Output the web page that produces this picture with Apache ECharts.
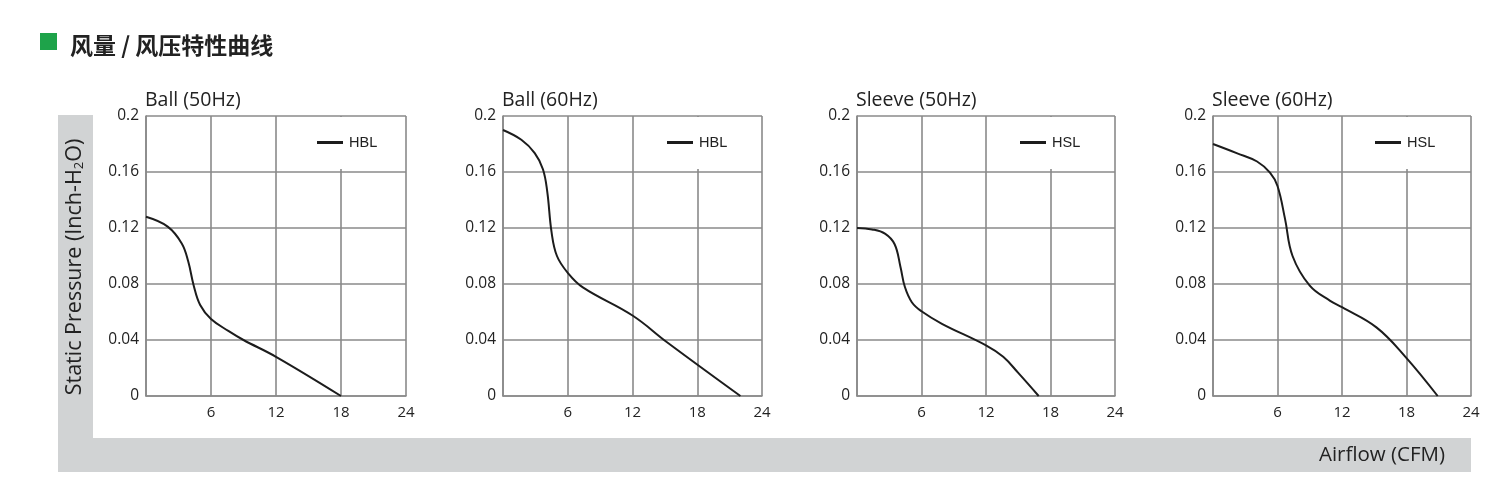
<!DOCTYPE html>
<html>
<head>
<meta charset="utf-8">
<script src="https://cdn.jsdelivr.net/npm/echarts@6/dist/echarts.min.js"></script>
<style>
html,body{margin:0;padding:0;background:#fff;}
#c{width:1499px;height:494px;}
</style>
</head>
<body>
<div id="c"></div>
<script>
// ---- data ----
const pageTitle = '风量 / 风压特性曲线';
const yAxisTitle = 'Static Pressure (Inch-H';
const xAxisTitle = 'Airflow (CFM)';
const chartTitles = ['Ball (50Hz)', 'Ball (60Hz)', 'Sleeve (50Hz)', 'Sleeve (60Hz)'];
const seriesNames = ['HBL', 'HBL', 'HSL', 'HSL'];
const xTicks = [0, 6, 12, 18, 24];
const yTicks = [0, 0.04, 0.08, 0.12, 0.16, 0.2];

const ball50 = [[0,0.128],[2,0.121],[3.3,0.109],[3.9,0.096],[4.4,0.079],[5,0.065],[6,0.055],[7.6,0.0465],[9,0.04],[12,0.028],[18,0]];
const ball60 = [[0,0.19],[1.7,0.183],[2.94,0.1735],[3.7,0.162],[4.1,0.146],[4.5,0.117],[5,0.1],[6,0.088],[7.4,0.0776],[12,0.0575],[15.2,0.0384],[22,0]];
const sleeve50 = [[0,0.12],[1.4,0.119],[2.6,0.116],[3.5,0.1084],[4.05,0.092],[4.45,0.078],[5.1,0.067],[6,0.0605],[7.9,0.0516],[12,0.0362],[13.6,0.028],[15,0.0165],[16.9,0]];
const sleeve60 = [[0,0.18],[2.2,0.1735],[4.1,0.1675],[5.3,0.1595],[6,0.15],[6.7,0.1265],[7.4,0.1],[9,0.0788],[10.9,0.068],[12,0.0634],[15.2,0.049],[17.9,0.028],[20.9,0]];
const curves = [ball50, ball60, sleeve50, sleeve60];

// ---- layout ----
const gridLefts = [146, 503, 857, 1213];
const gridWidths = [260, 259, 258, 258];
const gridTop = 116, gridHeight = 280;
const legendOffsets = [171, 164, 163, 162];
const gridColor = '#8a8a8a';
const lineColor = '#1c1c1c';
const tickFont = '"Open Sans", "Noto Sans", sans-serif';

const chart = echarts.init(document.getElementById('c'), null, {renderer: 'canvas'});

const grids = [], xAxes = [], yAxes = [], series = [], legends = [], titles = [];
curves.forEach((data, i) => {
  grids.push({left: gridLefts[i], top: gridTop, width: gridWidths[i], height: gridHeight, containLabel: false});
  xAxes.push({
    type: 'value', gridIndex: i, min: xTicks[0], max: xTicks[xTicks.length - 1], interval: xTicks[1] - xTicks[0],
    axisLine: {show: true, lineStyle: {color: gridColor, width: 1.6}},
    axisTick: {show: false},
    axisLabel: {showMinLabel: false, margin: 9, color: '#222', fontSize: 15, fontFamily: tickFont},
    splitLine: {show: true, lineStyle: {color: gridColor, width: 1.6}}
  });
  yAxes.push({
    type: 'value', gridIndex: i, min: yTicks[0], max: yTicks[yTicks.length - 1], interval: yTicks[1] - yTicks[0],
    axisLine: {show: true, lineStyle: {color: gridColor, width: 1.6}},
    axisTick: {show: false},
    axisLabel: {margin: 7, color: '#222', fontSize: 15.5, fontFamily: tickFont,
      formatter: v => String(Math.round(v * 100) / 100)},
    splitLine: {show: true, lineStyle: {color: gridColor, width: 1.6}}
  });
  series.push({
    name: seriesNames[i] + '#' + i, type: 'line', xAxisIndex: i, yAxisIndex: i, data: data,
    smooth: 0.4, showSymbol: false, symbol: 'none',
    lineStyle: {color: lineColor, width: 2}, itemStyle: {color: lineColor}, z: 3
  });
  legends.push({
    data: [seriesNames[i] + '#' + i],
    left: gridLefts[i] + legendOffsets[i] - 20, top: gridTop + 1,
    padding: [18, 12, 19, 20], backgroundColor: '#ffffff',
    icon: 'rect', itemWidth: 26, itemHeight: 3, itemGap: 0,
    formatter: n => n.split('#')[0],
    textStyle: {color: '#222', fontSize: 14.5, fontFamily: '"Liberation Sans", Arial, sans-serif', padding: [0, 0, 0, 1]},
    selectedMode: false, z: 5
  });
  titles.push({
    text: chartTitles[i], left: gridLefts[i] - 6, top: 85,
    textStyle: {color: '#222', fontSize: 19.5, fontWeight: 'normal', fontFamily: tickFont}
  });
});

titles.push({
  text: pageTitle, left: 65, top: 29,
  textStyle: {color: '#222', fontSize: 23, fontWeight: 'bold', fontFamily: '"Noto Sans CJK SC", sans-serif'}
});

const option = {
  animation: false,
  backgroundColor: '#ffffff',
  title: titles,
  legend: legends,
  grid: grids,
  xAxis: xAxes,
  yAxis: yAxes,
  series: series,
  graphic: [
    {type: 'rect', z: -10, silent: true, shape: {x: 58, y: 115, width: 35, height: 357}, style: {fill: '#d1d3d4'}},
    {type: 'rect', z: -10, silent: true, shape: {x: 58, y: 438, width: 1413, height: 34}, style: {fill: '#d1d3d4'}},
    {type: 'rect', z: 10, silent: true, shape: {x: 40, y: 33, width: 17, height: 17}, style: {fill: '#1ea34a'}},
    {type: 'text', z: 10, silent: true, x: 75, y: 267, rotation: Math.PI / 2,
      style: {
        text: '{a|' + yAxisTitle + '}{s|2}{a|O)}',
        align: 'center', verticalAlign: 'middle',
        rich: {
          a: {fontSize: 21.5, fontFamily: tickFont, fill: '#222', color: '#222'},
          s: {fontSize: 13, fontFamily: tickFont, fill: '#222', color: '#222', verticalAlign: 'bottom', padding: [7, 0, 0, 0]}
        }
      }},
    {type: 'text', z: 10, silent: true, x: 1382, y: 455,
      style: {text: xAxisTitle, align: 'center', verticalAlign: 'middle', fontSize: 20.5, fontFamily: tickFont, fill: '#222'}}
  ]
};
chart.setOption(option);
</script>
</body>
</html>
